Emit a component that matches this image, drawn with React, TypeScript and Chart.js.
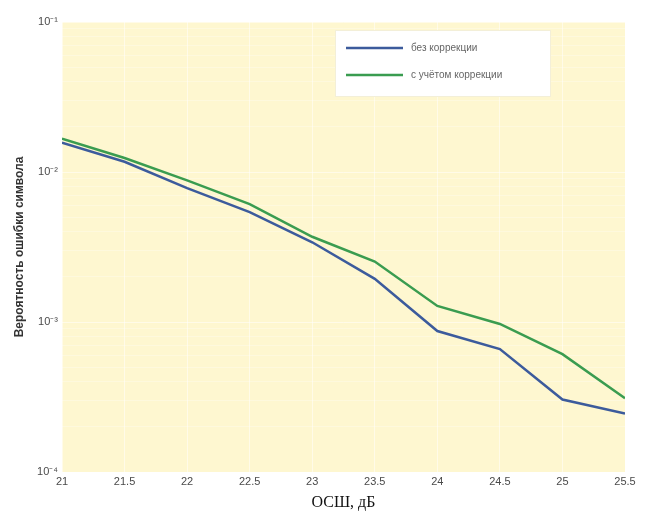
import React, { useEffect, useRef } from "react";
import { Chart, registerables } from "chart.js";

Chart.register(...registerables);

const snr = [21, 21.5, 22, 22.5, 23, 23.5, 24, 24.5, 25, 25.5];
const withoutCorrection = [0.0157, 0.0117, 0.0078, 0.0054, 0.0034, 0.00194, 0.00087, 0.00066, 0.000304, 0.000245];
const withCorrection = [0.0167, 0.0124, 0.0088, 0.0061, 0.0037, 0.00253, 0.00128, 0.00097, 0.00061, 0.00031];
const seriesNames = ["без коррекции", "с учётом коррекции"];
const yDecades = [1e-4, 1e-3, 1e-2, 1e-1];
const yDecadeLabels = ["10⁻⁴", "10⁻³", "10⁻²", "10⁻¹"];
const xTicks = [21, 21.5, 22, 22.5, 23, 23.5, 24, 24.5, 25, 25.5];
const xTitle = "ОСШ, дБ";
const yTitle = "Вероятность ошибки символа";

const bgPlugin = {
  id: "plotBg",
  beforeDraw(chart: any) {
    const { ctx, chartArea } = chart;
    ctx.save();
    ctx.fillStyle = "#fef7d0";
    ctx.fillRect(chartArea.left, chartArea.top, chartArea.right - chartArea.left, chartArea.bottom - chartArea.top);
    ctx.restore();
  },
};

const legendPlugin = {
  id: "boxLegend",
  afterDatasetsDraw(chart: any) {
    const { ctx, chartArea } = chart;
    const x = chartArea.left + 273;
    const y = chartArea.top + 8;
    const w = 215;
    const h = 66;
    ctx.save();
    ctx.fillStyle = "#ffffff";
    ctx.strokeStyle = "#f3efd8";
    ctx.lineWidth = 1;
    ctx.fillRect(x, y, w, h);
    ctx.strokeRect(x + 0.5, y + 0.5, w, h);
    ctx.font = "10px Arial, 'Liberation Sans', sans-serif";
    ctx.textBaseline = "middle";
    chart.data.datasets.forEach((ds: any, i: number) => {
      const ly = y + 18 + i * 27;
      ctx.strokeStyle = ds.borderColor;
      ctx.lineWidth = 2.5;
      ctx.beginPath();
      ctx.moveTo(x + 11, ly);
      ctx.lineTo(x + 68, ly);
      ctx.stroke();
      ctx.fillStyle = "#666666";
      ctx.fillText(ds.label, x + 76, ly);
    });
    ctx.restore();
  },
};

export default function App() {
  const ref = useRef<HTMLCanvasElement>(null);
  useEffect(() => {
    if (!ref.current) return;
    const minorTicks: number[] = [];
    for (let e = -4; e < -1; e++) {
      for (let m = 1; m <= 9; m++) minorTicks.push(m * Math.pow(10, e));
    }
    minorTicks.push(1e-1);
    const chart = new Chart(ref.current, {
      type: "line",
      data: {
        datasets: [
          {
            label: seriesNames[0],
            data: snr.map((x, i) => ({ x, y: withoutCorrection[i] })),
            borderColor: "#3c5b9c",
            borderWidth: 2.5,
            pointRadius: 0,
            tension: 0,
          },
          {
            label: seriesNames[1],
            data: snr.map((x, i) => ({ x, y: withCorrection[i] })),
            borderColor: "#3a9c50",
            borderWidth: 2.5,
            pointRadius: 0,
            tension: 0,
          },
        ],
      },
      options: {
        animation: false,
        responsive: false,
        maintainAspectRatio: false,
        layout: { padding: { top: 22, right: 24, left: 8, bottom: 0 } },
        plugins: { legend: { display: false }, tooltip: { enabled: false } },
        scales: {
          x: {
            type: "linear",
            min: 21,
            max: 25.5,
            afterBuildTicks: (s: any) => {
              s.ticks = xTicks.map((v) => ({ value: v }));
            },
            afterFit: (s: any) => {
              s.height = 41;
            },
            ticks: {
              color: "#4a4a4a",
              font: { family: "Arial, 'Liberation Sans', sans-serif", size: 11 },
              maxRotation: 0,
              padding: 3,
              callback: (v: any) => String(v),
            },
            grid: { color: "rgba(255,255,255,0.5)", drawTicks: false },
            border: { display: false },
            title: {
              display: true,
              text: xTitle,
              color: "#111111",
              font: { family: "'Liberation Serif', 'Times New Roman', serif", size: 16 },
              padding: { top: 0, bottom: 1 },
            },
          },
          y: {
            type: "logarithmic",
            min: 1e-4,
            max: 1e-1,
            afterBuildTicks: (s: any) => {
              s.ticks = minorTicks.map((v) => ({ value: v }));
            },
            afterFit: (s: any) => {
              s.width = 54;
            },
            ticks: {
              autoSkip: false,
              color: "#4a4a4a",
              font: { family: "Arial, 'Liberation Sans', sans-serif", size: 11 },
              padding: 4,
              callback: (v: any) => {
                const idx = yDecades.findIndex((d) => Math.abs(d - v) / d < 1e-6);
                return idx >= 0 ? yDecadeLabels[idx] : "";
              },
            },
            grid: {
              drawTicks: false,
              color: (c: any) => {
                const v = c.tick ? c.tick.value : 0;
                const isDec = yDecades.some((d) => Math.abs(d - v) / d < 1e-6);
                return isDec ? "rgba(255,255,255,0.5)" : "rgba(255,255,255,0.28)";
              },
            },
            border: { display: false },
            title: {
              display: true,
              text: yTitle,
              color: "#333333",
              font: { family: "Arial, 'Liberation Sans', sans-serif", size: 12, weight: "bold" },
              padding: { bottom: 2 },
            },
          },
        },
      },
      plugins: [bgPlugin, legendPlugin],
    } as any);
    return () => chart.destroy();
  }, []);
  return (
    <div style={{ position: "absolute", left: 0, top: 0, width: 649, height: 513, background: "#fff" }}>
      <canvas ref={ref} width={649} height={513} style={{ display: "block" }} />
    </div>
  );
}
